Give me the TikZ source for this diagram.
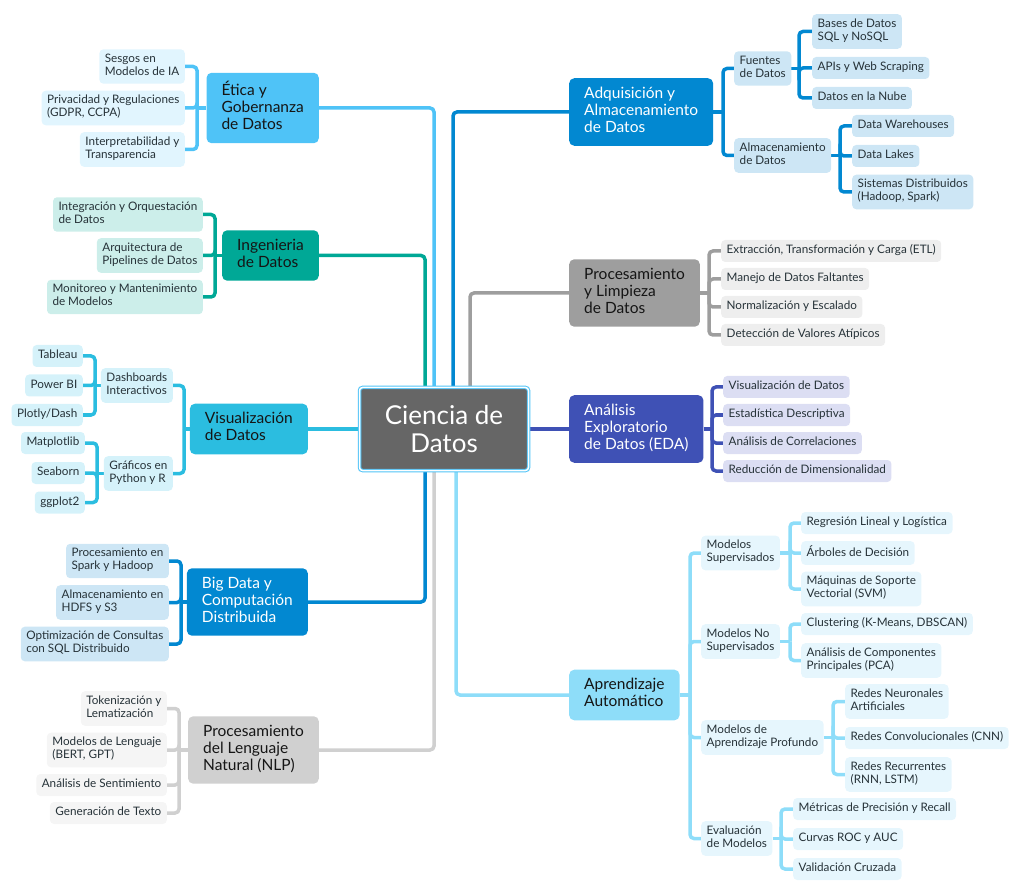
\documentclass[tikz,border=0pt]{standalone}
\usepackage{fontspec}
\setmainfont{Lato}
\usetikzlibrary{backgrounds}
\definecolor{rootC}{HTML}{666666}
\definecolor{selC}{HTML}{4FC3F7}
\definecolor{ink}{HTML}{263238}
\definecolor{dark}{HTML}{151515}
\definecolor{eticaC}{HTML}{4FC3F7}\definecolor{eticaL}{HTML}{E1F5FE}
\definecolor{ingC}{HTML}{00A896}\definecolor{ingL}{HTML}{CCEEEA}
\definecolor{visC}{HTML}{2BBDE0}\definecolor{visL}{HTML}{D5F2FA}
\definecolor{bigC}{HTML}{0288D1}\definecolor{bigL}{HTML}{CDE6F5}
\definecolor{nlpC}{HTML}{D0D0D0}\definecolor{nlpL}{HTML}{F5F5F5}
\definecolor{adqC}{HTML}{0288D1}\definecolor{adqL}{HTML}{CDE6F5}
\definecolor{procC}{HTML}{9E9E9E}\definecolor{procL}{HTML}{EEEEEE}
\definecolor{edaC}{HTML}{3F51B5}\definecolor{edaL}{HTML}{DCDEF3}
\definecolor{aprC}{HTML}{8EDDF9}\definecolor{aprL}{HTML}{E6F6FD}
\tikzset{
  root/.style={fill=rootC, draw=selC, double=white, double distance=1.5pt, line width=1pt,
    rounded corners=3pt, minimum width=169pt, minimum height=83pt, align=center,
    text=white, font=\fontsize{26}{28}\selectfont},
  topic/.style={rounded corners=5pt, inner xsep=15pt, inner ysep=8.5pt, align=left,
    text=dark, font=\fontsize{15.5}{17}\selectfont,
    execute at begin node=\strut, execute at end node=\strut},
  sub/.style={rounded corners=4pt, inner xsep=5.5pt, inner ysep=4.5pt, align=left,
    text=ink, font=\fontsize{11.7}{13}\selectfont,
    execute at begin node=\strut, execute at end node=\strut},
  link/.style={line width=3.5pt, rounded corners=4pt}
}
\begin{document}
\begin{tikzpicture}[x=1pt,y=-1pt]
\useasboundingbox (0,0) rectangle (1018,893);
\node[root] (root) at (444,429) {Ciencia de\\Datos};
% trunk and bracket positions
\coordinate (tEt) at (434,0); \coordinate (tIng) at (425,0);
\coordinate (tBig) at (425,0); \coordinate (tNlp) at (434,0);
\coordinate (tAdq) at (453,0); \coordinate (tProc) at (470,0);
\coordinate (tApr) at (456,0);
\coordinate (bEt) at (197,0); \coordinate (bIng) at (215,0);
\coordinate (bVis) at (184,0); \coordinate (bDash) at (95,0);
\coordinate (bGraf) at (97,0); \coordinate (bBig) at (181,0);
\coordinate (bNlp) at (179,0); \coordinate (bAdq) at (723,0);
\coordinate (bFue) at (799,0); \coordinate (bAlm) at (840,0);
\coordinate (bProc) at (709,0); \coordinate (bEda) at (712,0);
\coordinate (bApr) at (690,0); \coordinate (bSup) at (790,0);
\coordinate (bNos) at (790,0); \coordinate (bProf) at (833,0);
\coordinate (bEv) at (781,0);

% left side
\node[topic, fill=eticaC, anchor=east] (etica) at (319,108) {Ética y\\Gobernanza\\de Datos};
\foreach \i/\y/\t in {1/66.5/{Sesgos en\\Modelos de IA},
    2/108/{Privacidad y Regulaciones\\(GDPR, CCPA)},
    3/149.5/{Interpretabilidad y\\Transparencia}}
  \node[sub, fill=eticaL, anchor=east] (etica\i) at (185,\y) {\t};

\node[topic, fill=ingC, anchor=east] (ing) at (319,255.5) {Ingenieria\\de Datos};
\foreach \i/\y/\t in {1/214.5/{Integración y Orquestación\\de Datos},
    2/255.5/{Arquitectura de\\Pipelines de Datos},
    3/297/{Monitoreo y Mantenimiento\\de Modelos}}
  \node[sub, fill=ingL, anchor=east] (ing\i) at (203,\y) {\t};

\node[topic, fill=visC, anchor=east] (vis) at (308,429) {Visualización\\de Datos};
\node[sub, fill=visL, anchor=east] (vis1) at (173,385.5) {Dashboards\\Interactivos};
\node[sub, fill=visL, anchor=east] (vis2) at (173,473.5) {Gráficos en\\Python y R};
\foreach \i/\y/\t in {1/356/Tableau, 2/385.5/Power BI, 3/415/{Plotly/Dash}}
  \node[sub, fill=visL, anchor=east] (dash\i) at (83,\y) {\t};
\foreach \i/\y/\t in {1/443/Matplotlib, 2/473/Seaborn, 3/502.5/ggplot2}
  \node[sub, fill=visL, anchor=east] (graf\i) at (85,\y) {\t};

\node[topic, fill=bigC, text=white, anchor=east] (big) at (308,602) {Big Data y\\Computación\\Distribuida};
\foreach \i/\y/\t in {1/561/{Procesamiento en\\Spark y Hadoop},
    2/602.5/{Almacenamiento en\\HDFS y S3},
    3/644/{Optimización de Consultas\\con SQL Distribuido}}
  \node[sub, fill=bigL, anchor=east] (big\i) at (169,\y) {\t};

\node[topic, fill=nlpC, anchor=east] (nlp) at (319,750) {Procesamiento\\del Lenguaje\\Natural (NLP)};
\foreach \i/\y/\t in {1/708.5/{Tokenización y\\Lematización},
    2/750/{Modelos de Lenguaje\\(BERT, GPT)},
    3/785/{Análisis de Sentimiento},
    4/813/{Generación de Texto}}
  \node[sub, fill=nlpL, anchor=east] (nlp\i) at (167,\y) {\t};

% right side
\node[topic, fill=adqC, text=white, anchor=west] (adq) at (569,112) {Adquisición y\\Almacenamiento\\de Datos};
\node[sub, fill=adqL, anchor=west] (adq1) at (734,68.5) {Fuentes\\de Datos};
\node[sub, fill=adqL, anchor=west] (adq2) at (734,155.5) {Almacenamiento\\de Datos};
\foreach \i/\y/\t in {1/31.5/{Bases de Datos\\SQL y NoSQL}, 2/68/{APIs y Web Scraping},
    3/98/{Datos en la Nube}}
  \node[sub, fill=adqL, anchor=west] (fue\i) at (812,\y) {\t};
\foreach \i/\y/\t in {1/126/{Data Warehouses}, 2/156/{Data Lakes},
    3/192/{Sistemas Distribuidos\\(Hadoop, Spark)}}
  \node[sub, fill=adqL, anchor=west] (alm\i) at (852,\y) {\t};

\node[topic, fill=procC, anchor=west] (proc) at (569,293) {Procesamiento\\y Limpieza\\de Datos};
\foreach \i/\y/\t in {1/251/{Extracción, Transformación y Carga (ETL)},
    2/279/{Manejo de Datos Faltantes}, 3/307/{Normalización y Escalado},
    4/335/{Detección de Valores Atípicos}}
  \node[sub, fill=procL, anchor=west] (proc\i) at (721,\y) {\t};

\node[topic, fill=edaC, text=white, anchor=west] (eda) at (569,429) {Análisis\\Exploratorio\\de Datos (EDA)};
\foreach \i/\y/\t in {1/387/{Visualización de Datos}, 2/415/{Estadística Descriptiva},
    3/443/{Análisis de Correlaciones}, 4/471/{Reducción de Dimensionalidad}}
  \node[sub, fill=edaL, anchor=west] (eda\i) at (723,\y) {\t};

\node[topic, fill=aprC, anchor=west] (apr) at (569,695) {Aprendizaje\\Automático};
\foreach \i/\y/\t in {1/553/{Modelos\\Supervisados}, 2/641.5/{Modelos No\\Supervisados},
    3/737.5/{Modelos de\\Aprendizaje Profundo}, 4/838.5/{Evaluación\\de Modelos}}
  \node[sub, fill=aprL, anchor=west] (apr\i) at (701,\y) {\t};
\foreach \i/\y/\t in {1/523/{Regresión Lineal y Logística}, 2/553/{Árboles de Decisión},
    3/589/{Máquinas de Soporte\\Vectorial (SVM)}}
  \node[sub, fill=aprL, anchor=west] (sup\i) at (801,\y) {\t};
\foreach \i/\y/\t in {1/624/{Clustering (K-Means, DBSCAN)},
    2/660.5/{Análisis de Componentes\\Principales (PCA)}}
  \node[sub, fill=aprL, anchor=west] (nos\i) at (801,\y) {\t};
\foreach \i/\y/\t in {1/701.5/{Redes Neuronales\\Artificiales}, 2/738/{Redes Convolucionales (CNN)},
    3/774.5/{Redes Recurrentes\\(RNN, LSTM)}}
  \node[sub, fill=aprL, anchor=west] (prof\i) at (845,\y) {\t};
\foreach \i/\y/\t in {1/809/{Métricas de Precisión y Recall}, 2/839/{Curvas ROC y AUC},
    3/869/{Validación Cruzada}}
  \node[sub, fill=aprL, anchor=west] (ev\i) at (793,\y) {\t};

\begin{scope}[on background layer]
% trunk
\draw[link, eticaC] (etica.east) -| (tEt |- root.north);
\draw[link, ingC] (ing.east) -| (tIng |- root.north);
\draw[link, visC] (vis.east) -- (root.west);
\draw[link, bigC] (big.east) -| (tBig |- root.south);
\draw[link, nlpC] (nlp.east) -| (tNlp |- root.south);
\draw[link, adqC] (adq.west) -| (tAdq |- root.north);
\draw[link, procC] (proc.west) -| (tProc |- root.north);
\draw[link, edaC] (root.east) -- (eda.west);
\draw[link, aprC] (apr.west) -| (tApr |- root.south);
% brackets, left
\draw[link, eticaC] (etica.west) -- (etica.west -| bEt);
\foreach \i in {1,2,3} \draw[link, eticaC] (etica.west -| bEt) |- (etica\i.east);
\draw[link, ingC] (ing.west) -- (ing.west -| bIng);
\foreach \i in {1,2,3} \draw[link, ingC] (ing.west -| bIng) |- (ing\i.east);
\draw[link, visC] (vis.west) -- (vis.west -| bVis);
\foreach \i in {1,2} \draw[link, visC] (vis.west -| bVis) |- (vis\i.east);
\draw[link, visC] (vis1.west) -- (vis1.west -| bDash);
\foreach \i in {1,2,3} \draw[link, visC] (vis1.west -| bDash) |- (dash\i.east);
\draw[link, visC] (vis2.west) -- (vis2.west -| bGraf);
\foreach \i in {1,2,3} \draw[link, visC] (vis2.west -| bGraf) |- (graf\i.east);
\draw[link, bigC] (big.west) -- (big.west -| bBig);
\foreach \i in {1,2,3} \draw[link, bigC] (big.west -| bBig) |- (big\i.east);
\draw[link, nlpC] (nlp.west) -- (nlp.west -| bNlp);
\foreach \i in {1,...,4} \draw[link, nlpC] (nlp.west -| bNlp) |- (nlp\i.east);
% brackets, right
\draw[link, adqC] (adq.east) -- (adq.east -| bAdq);
\foreach \i in {1,2} \draw[link, adqC] (adq.east -| bAdq) |- (adq\i.west);
\draw[link, adqC] (adq1.east) -- (adq1.east -| bFue);
\foreach \i in {1,2,3} \draw[link, adqC] (adq1.east -| bFue) |- (fue\i.west);
\draw[link, adqC] (adq2.east) -- (adq2.east -| bAlm);
\foreach \i in {1,2,3} \draw[link, adqC] (adq2.east -| bAlm) |- (alm\i.west);
\draw[link, procC] (proc.east) -- (proc.east -| bProc);
\foreach \i in {1,...,4} \draw[link, procC] (proc.east -| bProc) |- (proc\i.west);
\draw[link, edaC] (eda.east) -- (eda.east -| bEda);
\foreach \i in {1,...,4} \draw[link, edaC] (eda.east -| bEda) |- (eda\i.west);
\draw[link, aprC] (apr.east) -- (apr.east -| bApr);
\foreach \i in {1,...,4} \draw[link, aprC] (apr.east -| bApr) |- (apr\i.west);
\draw[link, aprC] (apr1.east) -- (apr1.east -| bSup);
\foreach \i in {1,2,3} \draw[link, aprC] (apr1.east -| bSup) |- (sup\i.west);
\draw[link, aprC] (apr2.east) -- (apr2.east -| bNos);
\foreach \i in {1,2} \draw[link, aprC] (apr2.east -| bNos) |- (nos\i.west);
\draw[link, aprC] (apr3.east) -- (apr3.east -| bProf);
\foreach \i in {1,2,3} \draw[link, aprC] (apr3.east -| bProf) |- (prof\i.west);
\draw[link, aprC] (apr4.east) -- (apr4.east -| bEv);
\foreach \i in {1,2,3} \draw[link, aprC] (apr4.east -| bEv) |- (ev\i.west);
\end{scope}
\end{tikzpicture}
\end{document}
